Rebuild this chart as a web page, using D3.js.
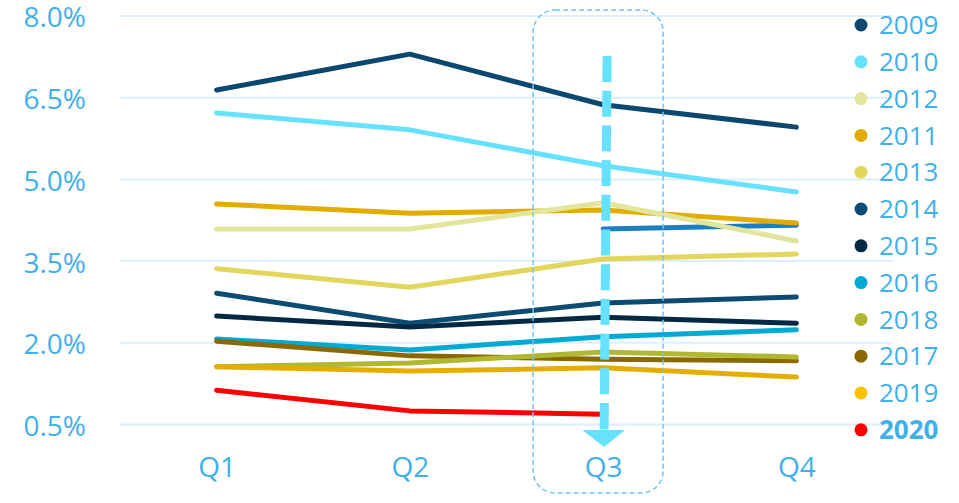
<!DOCTYPE html>
<html>
<head>
<meta charset="utf-8">
<script src="https://cdn.jsdelivr.net/npm/d3@7"></script>
<style>
  body { margin: 0; background: #fff; }
  text { font-family: "Open Sans", "Noto Sans", sans-serif; fill: #3fb0ea; }
</style>
</head>
<body>
<div id="chart"></div>
<script>
// Quarters and tick values
var quarters = ['Q1', 'Q2', 'Q3', 'Q4'];
var yTicks = [0.5, 2.0, 3.5, 5.0, 6.5, 8.0];

// Series (percent), in draw order
var years   = ['extra', '2009', '2010', '2011', '2012', '2013', '2014', '2015', '2016', '2017', '2018', '2019', '2020'];
var v_extra = [null, null, 4.09, 4.16];
var v2009 = [6.64, 7.30, 6.37, 5.96];
var v2010 = [6.22, 5.91, 5.25, 4.77];
var v2011 = [4.55, 4.38, 4.44, 4.20];
var v2012 = [4.09, 4.09, 4.57, 3.87];
var v2013 = [3.36, 3.02, 3.54, 3.63];
var v2014 = [2.91, 2.36, 2.73, 2.84];
var v2015 = [2.49, 2.29, 2.47, 2.36];
var v2016 = [2.07, 1.87, 2.11, 2.24];
var v2017 = [2.03, 1.76, 1.70, 1.67];
var v2018 = [1.56, 1.63, 1.83, 1.74];
var v2019 = [1.56, 1.48, 1.54, 1.37];
var v2020 = [1.13, 0.75, 0.69, null];
var values = [v_extra, v2009, v2010, v2011, v2012, v2013, v2014, v2015, v2016, v2017, v2018, v2019, v2020];
var lineColors = ['#1a7fbf', '#0a4870', '#66e2ff', '#e2ac00', '#e2e69c', '#e2d65c', '#0d4c72', '#032a45', '#00aad3', '#8a6a00', '#b0b832', '#e4ae00', '#ff0000'];

// Legend, in its own order
var legendYears  = ['2009', '2010', '2012', '2011', '2013', '2014', '2015', '2016', '2018', '2017', '2019', '2020'];
var legendColors = ['#0a4870', '#66e2ff', '#e2e69c', '#e2ac00', '#e2d65c', '#0d4c72', '#032a45', '#00aad3', '#b0b832', '#8a6a00', '#ffc000', '#ff0000'];

var width = 959, height = 503;

var svg = d3.select('#chart')
  .append('svg')
    .attr('width', width)
    .attr('height', height);

var x = d3.scalePoint()
  .domain(quarters)
  .range([120, 893])
  .padding(0.5);

var y = d3.scaleLinear()
  .domain([0.5, 8.0])
  .range([424.5, 16]);

// Gridlines
svg.append('g')
  .selectAll('line')
  .data(yTicks)
  .enter().append('line')
    .attr('x1', 120)
    .attr('x2', 893)
    .attr('y1', function(d) { return y(d); })
    .attr('y2', function(d) { return y(d); })
    .attr('stroke', '#dceffb')
    .attr('stroke-width', 2);

// Y axis labels
var yAxis = d3.axisLeft(y)
  .tickValues(yTicks)
  .tickSize(0)
  .tickPadding(0)
  .tickFormat(function(d) { return d3.format('.1f')(d) + '%'; });

svg.append('g')
  .attr('transform', 'translate(86,2)')
  .call(yAxis)
  .call(function(g) { g.select('.domain').remove(); })
  .selectAll('text')
    .attr('font-size', 28)
    .attr('fill', '#3fb0ea')
    .style('font-family', '"Open Sans", sans-serif');

// X axis labels
var xAxis = d3.axisBottom(x).tickSize(0).tickPadding(0);
svg.append('g')
  .attr('transform', 'translate(0,457)')
  .call(xAxis)
  .call(function(g) { g.select('.domain').remove(); })
  .selectAll('text')
    .attr('font-size', 28)
    .attr('fill', '#3fb0ea')
    .style('font-family', '"Open Sans", sans-serif');

// Lines
var line = d3.line()
  .defined(function(d) { return d != null; })
  .x(function(d, i) { return x(quarters[i]); })
  .y(function(d) { return y(d); });

svg.append('g')
  .selectAll('path')
  .data(values)
  .enter().append('path')
    .attr('d', line)
    .attr('fill', 'none')
    .attr('stroke', function(d, i) { return lineColors[i]; })
    .attr('stroke-width', 5)
    .attr('stroke-linecap', 'round')
    .attr('stroke-linejoin', 'round');

// Highlight box around Q3
var q3 = x('Q3');
svg.append('rect')
  .attr('x', q3 - 70)
  .attr('y', 10)
  .attr('width', 130)
  .attr('height', 483)
  .attr('rx', 22)
  .attr('fill', 'none')
  .attr('stroke', '#74c4ef')
  .attr('stroke-width', 1.5)
  .attr('stroke-dasharray', '5,3');

// Dashed arrow down at Q3
svg.append('line')
  .attr('x1', q3 + 4)
  .attr('y1', 56)
  .attr('x2', q3 + 1)
  .attr('y2', 431)
  .attr('stroke', '#66e2ff')
  .attr('stroke-width', 9)
  .attr('stroke-dasharray', '26,8.7');

svg.append('path')
  .attr('d', 'M' + (q3 - 21) + ',430L' + (q3 + 22) + ',430L' + (q3 + 1) + ',447Z')
  .attr('fill', '#66e2ff');

// Legend
var legend = svg.append('g')
  .selectAll('g')
  .data(legendYears)
  .enter().append('g')
    .attr('transform', function(d, i) { return 'translate(861,' + (25 + i * 36.8) + ')'; });

legend.append('circle')
  .attr('r', 6.5)
  .attr('fill', function(d, i) { return legendColors[i]; });

legend.append('text')
  .attr('x', 18)
  .attr('dy', '0.35em')
  .attr('font-size', 26)
  .attr('font-weight', function(d) { return d === '2020' ? 'bold' : 'normal'; })
  .text(function(d) { return d; });
</script>
</body>
</html>
